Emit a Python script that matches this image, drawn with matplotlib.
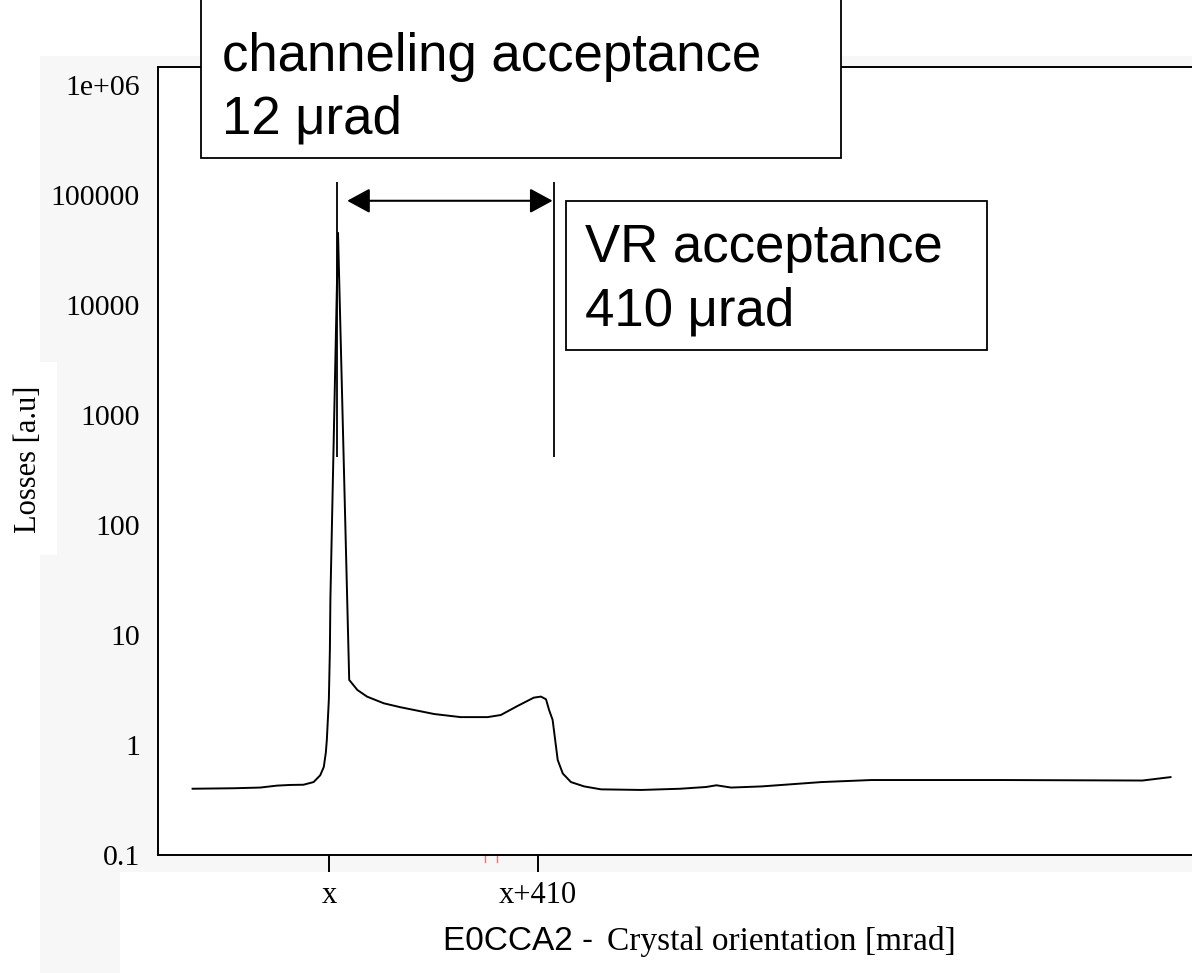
import matplotlib
matplotlib.use("Agg")
from matplotlib import pyplot as plt
from matplotlib.patches import Rectangle

# crystal orientation scan, angle in urad relative to the channeling peak x
angle = [-269, -189, -136, -103, -77, -51, -31, -18, -11, -7,
         -5, -1, 1, 2, 17, 39, 55, 74, 107, 140,
         206, 258, 311, 337, 370, 402, 416, 426, 432, 439,
         444, 449, 459, 475, 501, 534, 613, 690, 741, 761,
         790, 850, 968, 1066, 1323, 1599, 1654]
losses = [0.40, 0.404, 0.41, 0.427, 0.433, 0.435, 0.46, 0.53, 0.63, 0.85,
          1.11, 2.6, 7.3, 21, 45000, 3.9, 3.16, 2.75, 2.39, 2.2,
          1.91, 1.79, 1.79, 1.87, 2.26, 2.69, 2.75, 2.6, 2.08, 1.69,
          1.11, 0.73, 0.55, 0.46, 0.42, 0.395, 0.39, 0.40, 0.415, 0.43,
          0.41, 0.42, 0.46, 0.48, 0.48, 0.475, 0.51]

y_ticks = [0.1, 1, 10, 100, 1000, 10000, 100000, 1e6]
y_ticklabels = ["0.1", "1", "10", "100", "1000", "10000", "100000", "1e+06"]
x_ticks = [0, 410]
x_ticklabels = ["x", "x+410"]

# acceptance markers
chan_edge = 15
vr_edge = 441
marker_low, marker_high = 415, 1.3e5
arrow_level = 88000
arrow_from, arrow_to = 35, 439
stray_ticks = [307, 329]

SERIF = "Liberation Serif"
SANS = "Liberation Sans"
W, H = 1192, 973


def fx(px):
    return px / W


def fy(py):
    return 1 - py / H


fig = plt.figure(figsize=(W / 100, H / 100), dpi=100)
fig.patch.set_facecolor("white")

# grey frame behind the plot
grey = "#f7f7f7"
for x0, y0, x1, y1 in [(40, 56, 1192, 872), (40, 872, 120, 973)]:
    fig.add_artist(Rectangle((fx(x0), fy(y1)), fx(x1) - fx(x0), fy(y0) - fy(y1),
                             transform=fig.transFigure, facecolor=grey,
                             edgecolor="none", zorder=-2))
fig.add_artist(Rectangle((fx(0), fy(555)), fx(57), fy(362) - fy(555),
                         transform=fig.transFigure, facecolor="white",
                         edgecolor="none", zorder=-1))

ax = fig.add_axes([fx(158), fy(855), fx(1192) - fx(158) + 0.002, fy(67) - fy(855)])
ax.set_facecolor("white")
ax.plot(angle, losses, color="black", lw=1.4)
ax.set_yscale("log")
ax.set_xlim(-337, 1701)
ax.set_ylim(10 ** -1.0, 10 ** 6.16)

ax.set_yticks(y_ticks)
ax.set_yticklabels(y_ticklabels, fontfamily=SERIF, fontsize=21.5)
ax.yaxis.set_minor_locator(matplotlib.ticker.NullLocator())
ax.tick_params(axis="y", length=0, pad=13)
ax.set_xticks(x_ticks)
ax.set_xticklabels(x_ticklabels, fontfamily=SERIF, fontsize=22)
ax.tick_params(axis="x", length=12, width=1.4, pad=7, direction="out")

for side in ["left", "bottom", "top"]:
    ax.spines[side].set_linewidth(1.4)
ax.spines["right"].set_visible(False)

# faint red ticks under the axis
for xs in stray_ticks:
    ax.plot([xs, xs], [0, -0.009], transform=ax.get_xaxis_transform(),
            color="#ff7070", lw=1.0, clip_on=False)

# acceptance window
ax.vlines([chan_edge, vr_edge], marker_low, marker_high, color="black", lw=1.3)
ax.annotate("", xy=(arrow_from, arrow_level), xytext=(arrow_to, arrow_level),
            arrowprops=dict(arrowstyle="<|-|>,head_length=0.7,head_width=0.38",
                            mutation_scale=20, color="black", lw=1.5,
                            shrinkA=0, shrinkB=0))

# text boxes
for x0, y0, x1, y1 in [(201, -5, 841, 158), (566, 201, 987, 350)]:
    fig.add_artist(Rectangle((fx(x0), fy(y1)), fx(x1) - fx(x0), fy(y0) - fy(y1),
                             transform=fig.transFigure, facecolor="white",
                             edgecolor="black", lw=1.3, zorder=5))
box_lines = [("channeling acceptance", 222, 71), ("12 μrad", 222, 133),
             ("VR acceptance", 585, 262), ("410 μrad", 585, 325)]
for txt, px, py in box_lines:
    fig.text(fx(px), fy(py), txt, fontfamily=SANS, fontsize=38,
             ha="left", va="baseline", zorder=6)

# axis titles
fig.text(fx(29), fy(459), "Losses [a.u]", fontfamily=SERIF, fontsize=22,
         rotation=90, ha="center", va="center")
fig.text(fx(443), fy(950), "E0CCA2 -", fontfamily=SANS, fontsize=24,
         ha="left", va="baseline")
fig.text(fx(607), fy(950), "Crystal orientation [mrad]", fontfamily=SERIF,
         fontsize=24, ha="left", va="baseline")

fig.savefig("out.png", dpi=100)
